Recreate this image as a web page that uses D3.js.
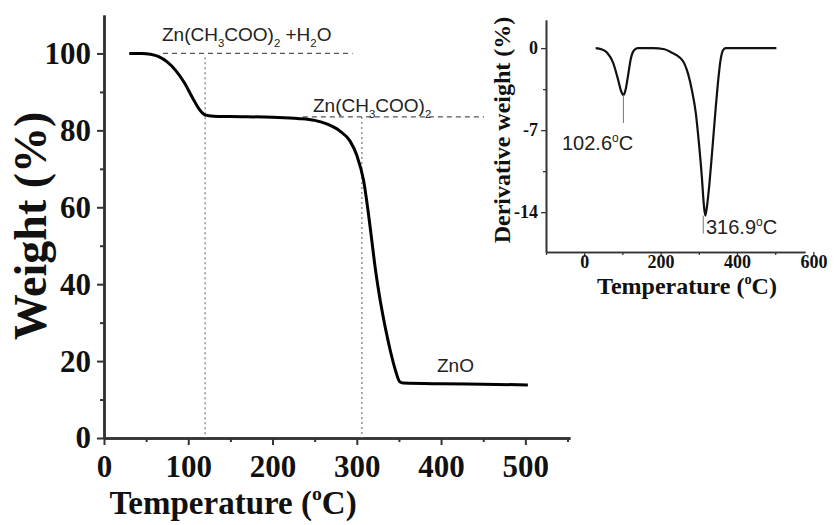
<!DOCTYPE html>
<html>
<head>
<meta charset="utf-8">
<script src="https://cdn.jsdelivr.net/npm/d3@7"></script>
<style>
  body { margin: 0; background: #fff; }
  .axis path, .axis line { stroke: #333; }
</style>
</head>
<body>
<svg id="chart" width="834" height="525"></svg>
<script>
// TGA curve (main plot)
const tgaTemp = [30, 45, 55, 65, 75, 85, 95, 105, 113, 120, 130, 150, 200, 230, 250, 265, 280, 292, 300, 308, 314, 318, 322, 328, 334, 340, 346, 351, 355, 400, 450, 503]
const tgaWeight = [100, 100, 99.8, 99.2, 97.8, 95.6, 92.5, 88.5, 85.5, 84.0, 83.7, 83.6, 83.4, 83.1, 82.6, 81.6, 79.8, 77.2, 73.5, 67, 58, 51, 44, 35.5, 28.5, 22.5, 17.5, 14.6, 14.3, 14.1, 14.0, 13.8]

// DTG curve (inset)
const dtgTemp = [30, 45, 60, 75, 88, 97, 102.6, 108, 115, 122, 130, 140, 180, 210, 230, 250, 262, 272, 282, 292, 300, 308, 313, 316.9, 321, 328, 335, 343, 350, 357, 363, 370, 420, 503]
const dtgDeriv = [0, -0.1, -0.4, -1.2, -2.6, -3.7, -4.0, -3.6, -2.3, -0.9, -0.2, 0, 0, -0.1, -0.4, -0.8, -1.3, -2.2, -3.6, -5.5, -8.0, -11.0, -13.3, -14.3, -13.6, -11.5, -8.8, -5.6, -3.0, -1.0, -0.2, 0, 0, 0]

const mainXTicks = [0, 100, 200, 300, 400, 500]
const mainXMinor = [50, 150, 250, 350, 450, 550]
const mainYTicks = [0, 20, 40, 60, 80, 100]
const mainYMinor = [10, 30, 50, 70, 90]
const insetXTicks = [0, 200, 400, 600]
const insetXMinor = [-100, 100, 300, 500]
const insetYTicks = [0, -7, -14]
const insetYMinor = [-3.5, -10.5]

// plateau guides and peak labels
const plateaus = [
  { w: 100, from: 70, to: 295 },
  { w: 83.5, from: 236, to: 451 }
]
const stepTemps = [{ t: 120, w: 99 }, { t: 306, w: 83.5 }]
const peaks = [{ t: 102.6, d: -4.0 }, { t: 316.9, d: -14.3 }]

const SERIF = "'Liberation Serif', 'Times New Roman', serif"
const SANS = "'Liberation Sans', Arial, sans-serif"

const svg = d3.select('#chart')

// ---------- main TGA plot ----------
const x = d3.scaleLinear().domain([0, 553]).range([104, 570])
const y = d3.scaleLinear().domain([0, 110]).range([438, 15])

function drawAxis(g, axis, width, size) {
  g.attr('class', 'axis').call(axis)
  g.attr('font-family', SERIF).attr('font-weight', 'bold').attr('font-size', size || 10)
  g.select('.domain').attr('stroke-width', width)
  g.selectAll('.tick line').attr('stroke-width', width * 0.8)
  if (!size) g.selectAll('.tick text').remove()  // minor ticks carry no labels
  g.selectAll('.tick text').attr('fill', '#111')
  return g.selectAll('.tick text')
}

drawAxis(svg.append('g').attr('transform', `translate(0,${y(0)})`),
  d3.axisBottom(x).tickValues(mainXMinor).tickSize(4).tickSizeOuter(0), 2.5)
drawAxis(svg.append('g').attr('transform', `translate(0,${y(0)})`),
  d3.axisBottom(x).tickValues(mainXTicks).tickSize(7).tickSizeOuter(0), 2.5, 31).attr('dy', '0.95em')
drawAxis(svg.append('g').attr('transform', `translate(${x(0)},0)`),
  d3.axisLeft(y).tickValues(mainYMinor).tickSize(4).tickSizeOuter(0), 2.5)
drawAxis(svg.append('g').attr('transform', `translate(${x(0)},0)`),
  d3.axisLeft(y).tickValues(mainYTicks).tickSize(7).tickSizeOuter(0), 2.5, 31).attr('dx', '-0.1em')

// guide lines
svg.selectAll('.plateau').data(plateaus).enter().append('line')
  .attr('x1', d => x(d.from)).attr('x2', d => x(d.to))
  .attr('y1', d => y(d.w)).attr('y2', d => y(d.w))
  .attr('stroke', '#555').attr('stroke-width', 1.2).attr('stroke-dasharray', '5,4')
svg.selectAll('.step').data(stepTemps).enter().append('line')
  .attr('x1', d => x(d.t)).attr('x2', d => x(d.t))
  .attr('y1', d => y(d.w)).attr('y2', y(0))
  .attr('stroke', '#777').attr('stroke-width', 1.2).attr('stroke-dasharray', '2,3')

const tgaLine = d3.line().x(d => x(d[0])).y(d => y(d[1])).curve(d3.curveMonotoneX)
svg.append('path')
  .datum(d3.zip(tgaTemp, tgaWeight))
  .attr('d', tgaLine)
  .attr('fill', 'none').attr('stroke', '#000').attr('stroke-width', 3)

// text with sub/superscript parts; the shift is undone on the next part
function richText(t, parts, size) {
  let back = 0
  parts.forEach(p => {
    const s = t.append('tspan').text(p[0])
    let shift = 0
    if (p[1] === 'sub') shift = size * 0.32
    if (p[1] === 'sup') shift = -size * 0.42
    if (p[1]) s.attr('font-size', size * 0.6)
    if (shift || back) s.attr('dy', shift + back)
    back = -shift
  })
  return t
}

function formula(px, py, parts, size) {
  const t = svg.append('text').attr('font-family', SANS).attr('font-size', size)
    .attr('x', px).attr('y', py).attr('fill', '#222')
  return richText(t, parts, size)
}

formula(162, 41, [['Zn(CH'], ['3', 'sub'], ['COO)'], ['2', 'sub'], [' +H'], ['2', 'sub'], ['O']], 19)
formula(313, 112, [['Zn(CH'], ['3', 'sub'], ['COO)'], ['2', 'sub']], 19)
formula(437, 372, [['ZnO']], 19)

function serifTitle(size, tx, ty, rot, parts) {
  const t = svg.append('text').attr('font-family', SERIF).attr('font-weight', 'bold')
    .attr('font-size', size).attr('fill', '#111').attr('text-anchor', 'middle')
    .attr('transform', `translate(${tx},${ty}) rotate(${rot})`)
  return richText(t, parts, size)
}

serifTitle(33, 233, 514, 0, [['Temperature ('], ['o', 'sup'], ['C)']])
serifTitle(46, 46, 226, -90, [['Weight (%)']])

// ---------- inset DTG plot ----------
const ix = d3.scaleLinear().domain([-100, 578]).range([546, 805])
const iy = d3.scaleLinear().domain([-17.4, 2.4]).range([252, 20])

drawAxis(svg.append('g').attr('transform', `translate(0,${iy(-17.4)})`),
  d3.axisBottom(ix).tickValues(insetXMinor).tickSize(3).tickSizeOuter(0), 1.6)
drawAxis(svg.append('g').attr('transform', `translate(0,${iy(-17.4)})`),
  d3.axisBottom(ix).tickValues(insetXTicks).tickSize(5).tickSizeOuter(0), 1.6, 18)
  .attr('y', 3)
drawAxis(svg.append('g').attr('transform', `translate(${ix(-100)},0)`),
  d3.axisLeft(iy).tickValues(insetYMinor).tickSize(3).tickSizeOuter(0), 1.6)
drawAxis(svg.append('g').attr('transform', `translate(${ix(-100)},0)`),
  d3.axisLeft(iy).tickValues(insetYTicks).tickSize(5).tickSizeOuter(0), 1.6, 18)
  .text(d => d)

const dtgLine = d3.line().x(d => ix(d[0])).y(d => iy(d[1])).curve(d3.curveMonotoneX)
svg.append('path')
  .datum(d3.zip(dtgTemp, dtgDeriv))
  .attr('d', dtgLine)
  .attr('fill', 'none').attr('stroke', '#111').attr('stroke-width', 2.2)

// peak markers
svg.append('line')
  .attr('x1', ix(peaks[0].t)).attr('x2', ix(peaks[0].t))
  .attr('y1', iy(peaks[0].d)).attr('y2', iy(peaks[0].d) + 28)
  .attr('stroke', '#777').attr('stroke-width', 1)
svg.append('line')
  .attr('x1', ix(peaks[1].t) - 2).attr('x2', ix(peaks[1].t) - 2)
  .attr('y1', iy(peaks[1].d)).attr('y2', iy(peaks[1].d) + 18)
  .attr('stroke', '#777').attr('stroke-width', 1)

formula(562, 150, [[peaks[0].t.toFixed(1)], ['o', 'sup'], ['C']], 20)
formula(706, 234, [[peaks[1].t.toFixed(1)], ['o', 'sup'], ['C']], 20)

serifTitle(24, 687, 294, 0, [['Temperature ('], ['o', 'sup'], ['C)']])
serifTitle(24, 510, 130, -90, [['Derivative weight (%)']])
</script>
</body>
</html>
